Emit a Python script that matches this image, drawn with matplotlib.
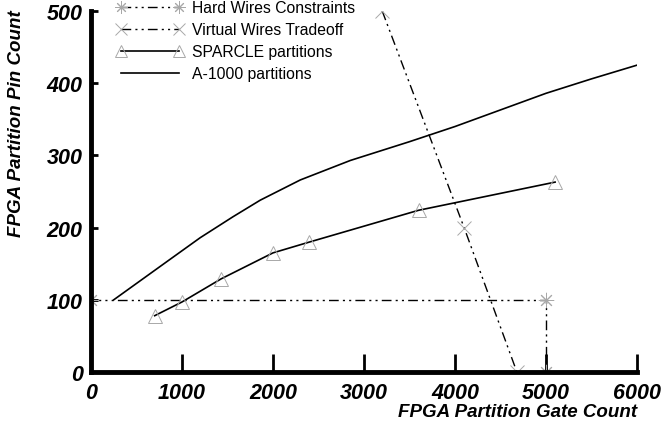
import matplotlib
matplotlib.use("Agg")
import matplotlib.pyplot as plt

hard_x = [0, 5000, 5000]
hard_y = [100, 100, 0]
virt_x = [3200, 4100, 4680]
virt_y = [500, 200, 0]
sparcle_x = [700, 1000, 1430, 2000, 2400, 3600, 5100]
sparcle_y = [78, 97, 129, 165, 180, 224, 263]
a1000_x = [250, 835, 1200, 1560, 1860, 2300, 2850, 3500, 4000, 4500, 5000, 5500, 6000]
a1000_y = [100, 153, 186, 215, 238, 266, 293, 319, 340, 363, 386, 406, 425]

xticks = [0, 1000, 2000, 3000, 4000, 5000, 6000]
yticks = [0, 100, 200, 300, 400, 500]

plt.rcParams['font.family'] = ['Liberation Sans', 'DejaVu Sans']

fig = plt.figure(figsize=(6.65, 4.31), dpi=100)
ax = fig.add_axes([91/665, 1-373/431, (637-91)/665, (373-12)/431])

dd = (0, (7, 3, 1.5, 3, 1.5, 3))
mk_col = '#a8a8a8'
ax.plot(hard_x, hard_y, color='black', lw=1.0, ls=dd, marker=(8, 2, 0),
        ms=11, mec=mk_col, mew=0.7, label='Hard Wires Constraints')
ax.plot(virt_x, virt_y, color='black', lw=1.0, ls=dd, marker='x',
        ms=10, mec=mk_col, mew=0.7, label='Virtual Wires Tradeoff')
ax.plot(sparcle_x, sparcle_y, color='black', lw=1.2, marker='^',
        ms=10, mfc='none', mec=mk_col, mew=0.7, label='SPARCLE partitions')
ax.plot(a1000_x, a1000_y, color='black', lw=1.2, label='A-1000 partitions')

ax.set_xlim(0, 6000)
ax.set_ylim(0, 500)
ax.set_xticks(xticks)
ax.set_yticks(yticks)
for s in ['top', 'right']:
    ax.spines[s].set_visible(False)
for s in ['left', 'bottom']:
    ax.spines[s].set_linewidth(3.5)
ax.tick_params(axis='x', direction='in', length=13, width=2, pad=7)
ax.tick_params(axis='y', direction='in', length=5, width=2, pad=6)
for lab in ax.get_xticklabels() + ax.get_yticklabels():
    lab.set_fontsize(15.5)
    lab.set_fontweight('bold')
    lab.set_fontstyle('italic')

fig.text(637/665, 1-413/431, 'FPGA Partition Gate Count', ha='right', va='center',
         fontsize=13.5, fontweight='bold', fontstyle='italic')
fig.text(17/665, 1-124/431, 'FPGA Partition Pin Count', ha='center', va='center',
         rotation=90, fontsize=13.5, fontweight='bold', fontstyle='italic')

leg = fig.legend(loc='upper left', bbox_to_anchor=(110/665, 1+5/431), frameon=False,
                 fontsize=11.3, handlelength=4.3, handletextpad=0.55, numpoints=2,
                 labelspacing=0.45, borderaxespad=0, markerscale=0.8)

fig.savefig('out.png', dpi=100)
